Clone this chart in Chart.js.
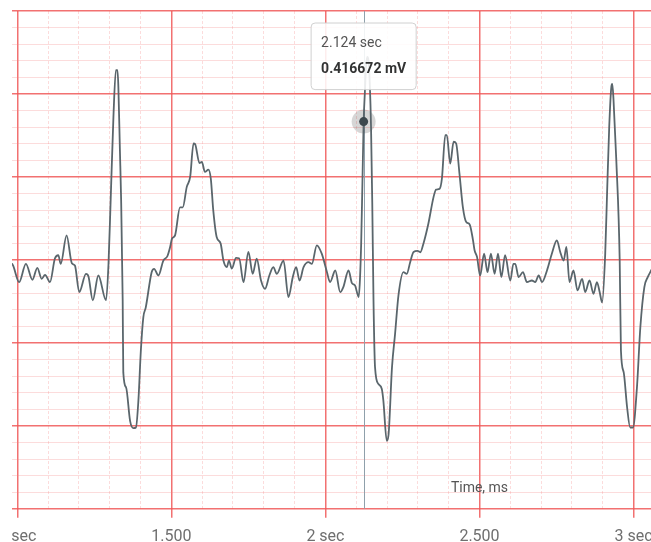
<!DOCTYPE html>
<html>
<head>
<meta charset="utf-8">
<script src="https://cdn.jsdelivr.net/npm/chart.js@4/dist/chart.umd.min.js"></script>
<style>
  html, body { margin: 0; padding: 0; background: #fff; }
  #wrap { position: absolute; left: 12px; top: 0; width: 639px; height: 542px; overflow: hidden; }
  #chart { position: absolute; left: -40px; top: 0; }
</style>
</head>
<body>
<div id="wrap"><canvas id="chart" width="1015" height="560"></canvas></div>
<script>
// time in seconds
const times = [
  0.960, 0.983, 1.006, 1.028, 1.049, 1.065, 1.079, 1.090, 1.106, 1.122,
  1.133, 1.141, 1.160, 1.177, 1.187, 1.201, 1.223, 1.231, 1.245, 1.263,
  1.288, 1.296, 1.303, 1.312, 1.320, 1.325, 1.328, 1.333, 1.337, 1.342,
  1.344, 1.353, 1.366, 1.377, 1.385, 1.393, 1.401, 1.409, 1.417, 1.436,
  1.444, 1.458, 1.474, 1.487, 1.496, 1.502, 1.512, 1.528, 1.537, 1.550,
  1.561, 1.572, 1.577, 1.591, 1.599, 1.609, 1.620, 1.628, 1.636, 1.647,
  1.660, 1.669, 1.680, 1.687, 1.696, 1.710, 1.720, 1.734, 1.750, 1.764,
  1.777, 1.791, 1.804, 1.818, 1.831, 1.842, 1.864, 1.880, 1.894, 1.905,
  1.916, 1.929, 1.945, 1.956, 1.972, 1.988, 2.005, 2.015, 2.032, 2.048,
  2.058, 2.075, 2.086, 2.096, 2.108, 2.112, 2.116, 2.120, 2.124, 2.128,
  2.132, 2.136, 2.140, 2.144, 2.148, 2.152, 2.156, 2.161, 2.172, 2.183,
  2.188, 2.199, 2.205, 2.216, 2.226, 2.237, 2.253, 2.264, 2.275, 2.286,
  2.299, 2.308, 2.318, 2.334, 2.351, 2.359, 2.370, 2.378, 2.389, 2.394,
  2.405, 2.416, 2.424, 2.435, 2.446, 2.457, 2.468, 2.479, 2.484, 2.492,
  2.502, 2.515, 2.526, 2.537, 2.549, 2.560, 2.571, 2.583, 2.600, 2.610,
  2.616, 2.627, 2.641, 2.654, 2.670, 2.681, 2.692, 2.703, 2.719, 2.735,
  2.751, 2.762, 2.773, 2.782, 2.792, 2.805, 2.818, 2.833, 2.843, 2.857,
  2.870, 2.881, 2.890, 2.898, 2.908, 2.914, 2.921, 2.928, 2.931, 2.935,
  2.944, 2.955, 2.959, 2.968, 2.979, 2.989, 2.998, 3.011, 3.022, 3.035,
  3.046, 3.057, 3.071
];

// voltage in mV
const millivolts = [
  -0.008, -0.012, -0.067, -0.012, -0.060, -0.024, -0.057, -0.045, -0.067, 0.004,
  0.014, -0.012, 0.074, -0.010, -0.017, -0.097, -0.042, -0.050, -0.122, -0.047,
  -0.122, -0.012, 0.180, 0.431, 0.572, 0.572, 0.522, 0.331, 0.180, -0.122,
  -0.339, -0.384, -0.485, -0.507, -0.505, -0.424, -0.273, -0.173, -0.143, -0.037,
  -0.027, -0.047, -0.002, 0.011, 0.039, 0.064, 0.074, 0.158, 0.158, 0.220,
  0.250, 0.351, 0.349, 0.292, 0.295, 0.265, 0.272, 0.245, 0.149, 0.069,
  0.049, -0.002, -0.022, -0.002, -0.026, 0.006, 0.005, -0.067, 0.024, -0.042,
  0.004, -0.062, -0.087, -0.047, -0.022, -0.042, -0.002, -0.112, -0.052, -0.022,
  -0.062, -0.022, -0.007, -0.012, 0.044, 0.019, -0.037, -0.067, -0.032, -0.097,
  -0.082, -0.032, -0.070, -0.077, -0.112, -0.060, 0.050, 0.230, 0.416672, 0.505,
  0.585, 0.612, 0.598, 0.530, 0.400, 0.170, -0.122, -0.324, -0.374, -0.389,
  -0.424, -0.545, -0.525, -0.324, -0.223, -0.107, -0.037, -0.042, -0.007, 0.024,
  0.027, 0.023, 0.049, 0.109, 0.190, 0.212, 0.214, 0.245, 0.376, 0.376,
  0.290, 0.356, 0.351, 0.260, 0.159, 0.114, 0.107, 0.059, 0.029, 0.009,
  -0.047, 0.019, -0.037, 0.019, -0.042, 0.019, -0.052, 0.014, -0.062, -0.012,
  -0.012, -0.052, -0.037, -0.067, -0.062, -0.067, -0.047, -0.067, -0.032, 0.019,
  0.059, 0.024, -0.002, 0.039, -0.067, -0.032, -0.092, -0.057, -0.097, -0.062,
  -0.102, -0.067, -0.097, -0.128, 0.019, 0.200, 0.401, 0.522, 0.530, 0.481,
  0.300, -0.002, -0.273, -0.339, -0.444, -0.505, -0.505, -0.384, -0.203, -0.082,
  -0.052, -0.032, -0.008
];

const HOVER_TIME = 2.124;
const X_MIN = 0.853, X_MAX = 4.147;
const Y_MIN = -0.75, Y_MAX = 0.75;

const MAJOR = "rgba(240, 88, 88, 0.85)";
const MINOR = "rgba(245, 130, 130, 0.28)";

Chart.defaults.font.family = "Roboto, 'Noto Sans', sans-serif";

function isMajorX(v) { return Math.abs(v * 2 - Math.round(v * 2)) < 1e-6; }
function isMajorY(v) { return Math.abs(v * 4 - Math.round(v * 4)) < 1e-6; }

function xLabel(v) {
  if (Math.abs(v - Math.round(v)) < 1e-6) return Math.round(v) + " sec";
  if (isMajorX(v)) return v.toFixed(3);
  return "";
}

const marks = {
  id: "marks",
  beforeDatasetsDraw(chart) {
    const { ctx, chartArea } = chart;
    ctx.save();
    ctx.fillStyle = "#555";
    ctx.font = "14px Roboto";
    ctx.textAlign = "center";
    ctx.textBaseline = "middle";
    ctx.fillText("Time, ms", (chartArea.left + chartArea.right) / 2, chartArea.bottom - 20);

    const active = chart.getActiveElements();
    if (active.length) {
      const { x, y } = active[0].element;
      const px = Math.round(x) + 0.5;
      ctx.strokeStyle = "#8fa0ab";
      ctx.lineWidth = 1;
      ctx.beginPath();
      ctx.moveTo(px, chartArea.top);
      ctx.lineTo(px, chartArea.bottom);
      ctx.stroke();
      ctx.fillStyle = "rgba(0, 0, 0, 0.16)";
      ctx.beginPath();
      ctx.arc(x, y, 12, 0, Math.PI * 2);
      ctx.fill();
    }
    ctx.restore();
  }
};

const points = times.map((t, i) => ({ x: t, y: millivolts[i] }));

const chart = new Chart(document.getElementById("chart"), {
  type: "line",
  data: {
    datasets: [{
      data: points,
      borderColor: "#5a666c",
      borderWidth: 1.8,
      cubicInterpolationMode: "monotone",
      pointRadius: 0,
      pointHoverRadius: 4.5,
      pointHoverBorderWidth: 0,
      pointHoverBackgroundColor: "#3b474d"
    }]
  },
  options: {
    responsive: false,
    animation: false,
    events: [],
    layout: { padding: { left: 0, right: 0, top: 11, bottom: 3 }, autoPadding: false },
    scales: {
      x: {
        type: "linear",
        min: X_MIN,
        max: X_MAX,
        border: { display: false, dash: c => (c.tick && isMajorX(c.tick.value)) ? [] : [3, 2] },
        grid: {
          color: c => isMajorX(c.tick.value) ? MAJOR : MINOR,
          lineWidth: c => isMajorX(c.tick.value) ? 1.5 : 1,
          tickColor: c => isMajorX(c.tick.value) ? MAJOR : "rgba(0,0,0,0)",
          tickLength: 9
        },
        ticks: {
          stepSize: 0.1,
          includeBounds: false,
          autoSkip: false,
          maxRotation: 0,
          padding: 10,
          color: "#6f6f6f",
          font: { size: 16 },
          callback: v => xLabel(v)
        }
      },
      y: {
        min: Y_MIN,
        max: Y_MAX,
        border: { display: false },
        grid: {
          drawTicks: false,
          color: c => isMajorY(c.tick.value) ? MAJOR : MINOR,
          lineWidth: c => isMajorY(c.tick.value) ? 1.5 : 1
        },
        ticks: { display: false, stepSize: 0.05 }
      }
    },
    plugins: {
      legend: { display: false },
      tooltip: {
        backgroundColor: "rgba(255, 255, 255, 0.88)",
        borderColor: "#d0d0d0",
        borderWidth: 1,
        cornerRadius: 4,
        displayColors: false,
        titleColor: "#555",
        titleFont: { size: 14, weight: "normal" },
        bodyColor: "#333",
        bodyFont: { size: 14, weight: "bold" },
        padding: { left: 10, right: 10, top: 12, bottom: 12 },
        titleMarginBottom: 9,
        caretSize: 0,
        caretPadding: 32,
        xAlign: "center",
        yAlign: "bottom",
        callbacks: {
          title: items => items[0].parsed.x + " sec",
          label: item => item.parsed.y + " mV"
        }
      }
    }
  },
  plugins: [marks]
});

// line the canvas up so that 1 sec sits where the reference has it
const canvas = document.getElementById("chart");
canvas.style.left = Math.round(17.3 - 12 - chart.scales.x.getPixelForValue(1)) + "px";

const hoverIndex = times.indexOf(HOVER_TIME);
const el = chart.getDatasetMeta(0).data[hoverIndex];
chart.setActiveElements([{ datasetIndex: 0, index: hoverIndex }]);
chart.tooltip.setActiveElements([{ datasetIndex: 0, index: hoverIndex }], { x: el.x, y: el.y });
chart.update();
</script>
</body>
</html>
